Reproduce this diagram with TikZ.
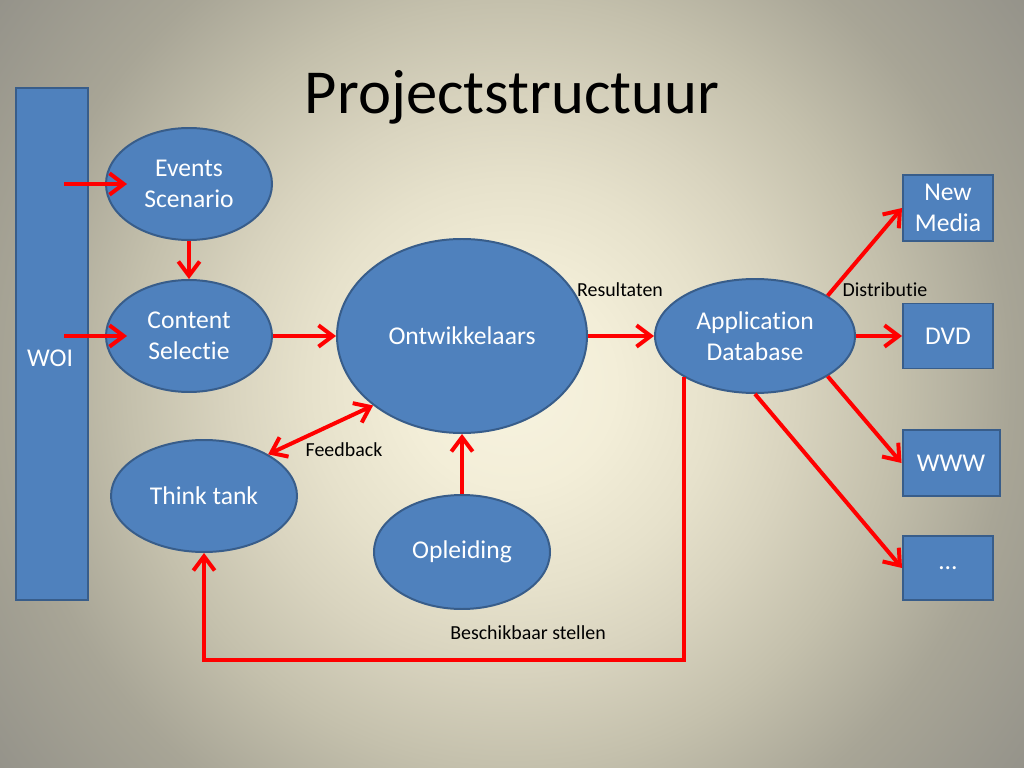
\documentclass[tikz,border=0pt]{standalone}
\usepackage{fontspec}
\setmainfont{Carlito}[Ligatures={NoCommon,NoContextual}]
\usetikzlibrary{shapes.geometric,arrows.meta}
\definecolor{boxblue}{HTML}{4F81BD}
\definecolor{boxline}{HTML}{385D8A}
\definecolor{flowred}{HTML}{FF0000}
\definecolor{bgA}{HTML}{F7F3E0}
\definecolor{bgB}{HTML}{F3EED8}
\definecolor{bgC}{HTML}{E6E1CB}
\definecolor{bgD}{HTML}{D9D4BF}
\definecolor{bgE}{HTML}{C4C0AC}
\definecolor{bgF}{HTML}{A8A596}
\definecolor{bgG}{HTML}{95938A}
\pgfdeclareradialshading{slidebg}{\pgfpoint{0bp}{0bp}}{color(0bp)=(bgA); color(4bp)=(bgB); color(8bp)=(bgC); color(11bp)=(bgD); color(15bp)=(bgE); color(19.5bp)=(bgF); color(25bp)=(bgG); color(50bp)=(bgG)}
\newcommand{\pxu}{0.703125pt}

\begin{document}
\begin{tikzpicture}[x=\pxu,y=-\pxu,
  blob/.style={ellipse,draw=boxline,line width=1.4pt,fill=boxblue,inner sep=0pt,
    text=white,align=center,font=\fontsize{18}{21.6}\selectfont},
  block/.style={rectangle,draw=boxline,line width=1.4pt,fill=boxblue,inner sep=0pt,
    text=white,align=center,font=\fontsize{18}{21.6}\selectfont},
  flow/.style={draw=flowred,line width=2.8pt,-{Straight Barb[length=10pt,width=15pt]}},
  note/.style={font=\fontsize{14}{16}\selectfont,text=black}]
 \useasboundingbox (0,0) rectangle (1024,768);
 \clip (0,0) rectangle (1024,768);
 \fill[shading=slidebg] (-128,-256) rectangle (1152,1024);

 \node[font=\fontsize{44}{50}\selectfont] (title) at (512,97) {Projectstructuur};

 \node[block,minimum width=72*\pxu,minimum height=512*\pxu] (woi) at (52,344) {};
 \node[text=white,font=\fontsize{18}{21.6}\selectfont] (woitext) at (50,358) {WOI};
 \node[blob,minimum width=166*\pxu,minimum height=112*\pxu] (events) at (189,184) {Events\\Scenario};
 \node[blob,minimum width=166*\pxu,minimum height=112*\pxu] (content) at (189,336) {Content\\Selectie};
 \node[blob,minimum width=250*\pxu,minimum height=194*\pxu] (ontw) at (462,336) {Ontwikkelaars};
 \node[blob,minimum width=200*\pxu,minimum height=114*\pxu] (appdb) at (755,336) {Application\\Database};
 \node[blob,minimum width=186*\pxu,minimum height=112*\pxu] (think) at (204,496) {Think tank};
 \node[blob,minimum width=176*\pxu,minimum height=114*\pxu] (opleiding) at (462,552) {Opleiding};
 \node[block,minimum width=90*\pxu,minimum height=66*\pxu] (newmedia) at (948,208) {New\\Media};
 \node[block,minimum width=90*\pxu,minimum height=65*\pxu] (dvd) at (948,336) {DVD};
 \node[block,minimum width=97*\pxu,minimum height=66*\pxu] (www) at (951,463) {WWW};
 \node[block,minimum width=90*\pxu,minimum height=64*\pxu] (dots) at (948,568) {\dots};

 \coordinate (woiout1) at (64,184);
 \coordinate (woiout2) at (64,336);
 \draw[flow] (woiout1) -- ([xshift=22*\pxu]events.west);
 \draw[flow] (woiout2) -- ([xshift=22*\pxu]content.west);
 \draw[flow] (events.south) -- (content.north);
 \draw[flow] (content.east) -- (ontw.west);
 \draw[flow] (ontw.east) -- (appdb.west);
 \draw[flow] (opleiding.north) -- (ontw.south);
 \draw[flow,{Straight Barb[length=10pt,width=15pt]}-{Straight Barb[length=10pt,width=15pt]}] (think.33) -- (ontw.218);
 \draw[flow] (appdb.29) -- (newmedia.west);
 \draw[flow] (appdb.east) -- (dvd.west);
 \draw[flow] (appdb.-29) -- (www.west);
 \draw[flow] (appdb.south) -- (dots.west);
 \draw[flow] (appdb.210) -- ++(0,283) -| (think.south);

 \node[note] (resultaten) at (620,290) {Resultaten};
 \node[note] (distributie) at (885,290) {Distributie};
 \node[note] (feedback) at (344,450) {Feedback};
 \node[note] (beschikbaar) at (528,633) {Beschikbaar stellen};
\end{tikzpicture}
\end{document}
